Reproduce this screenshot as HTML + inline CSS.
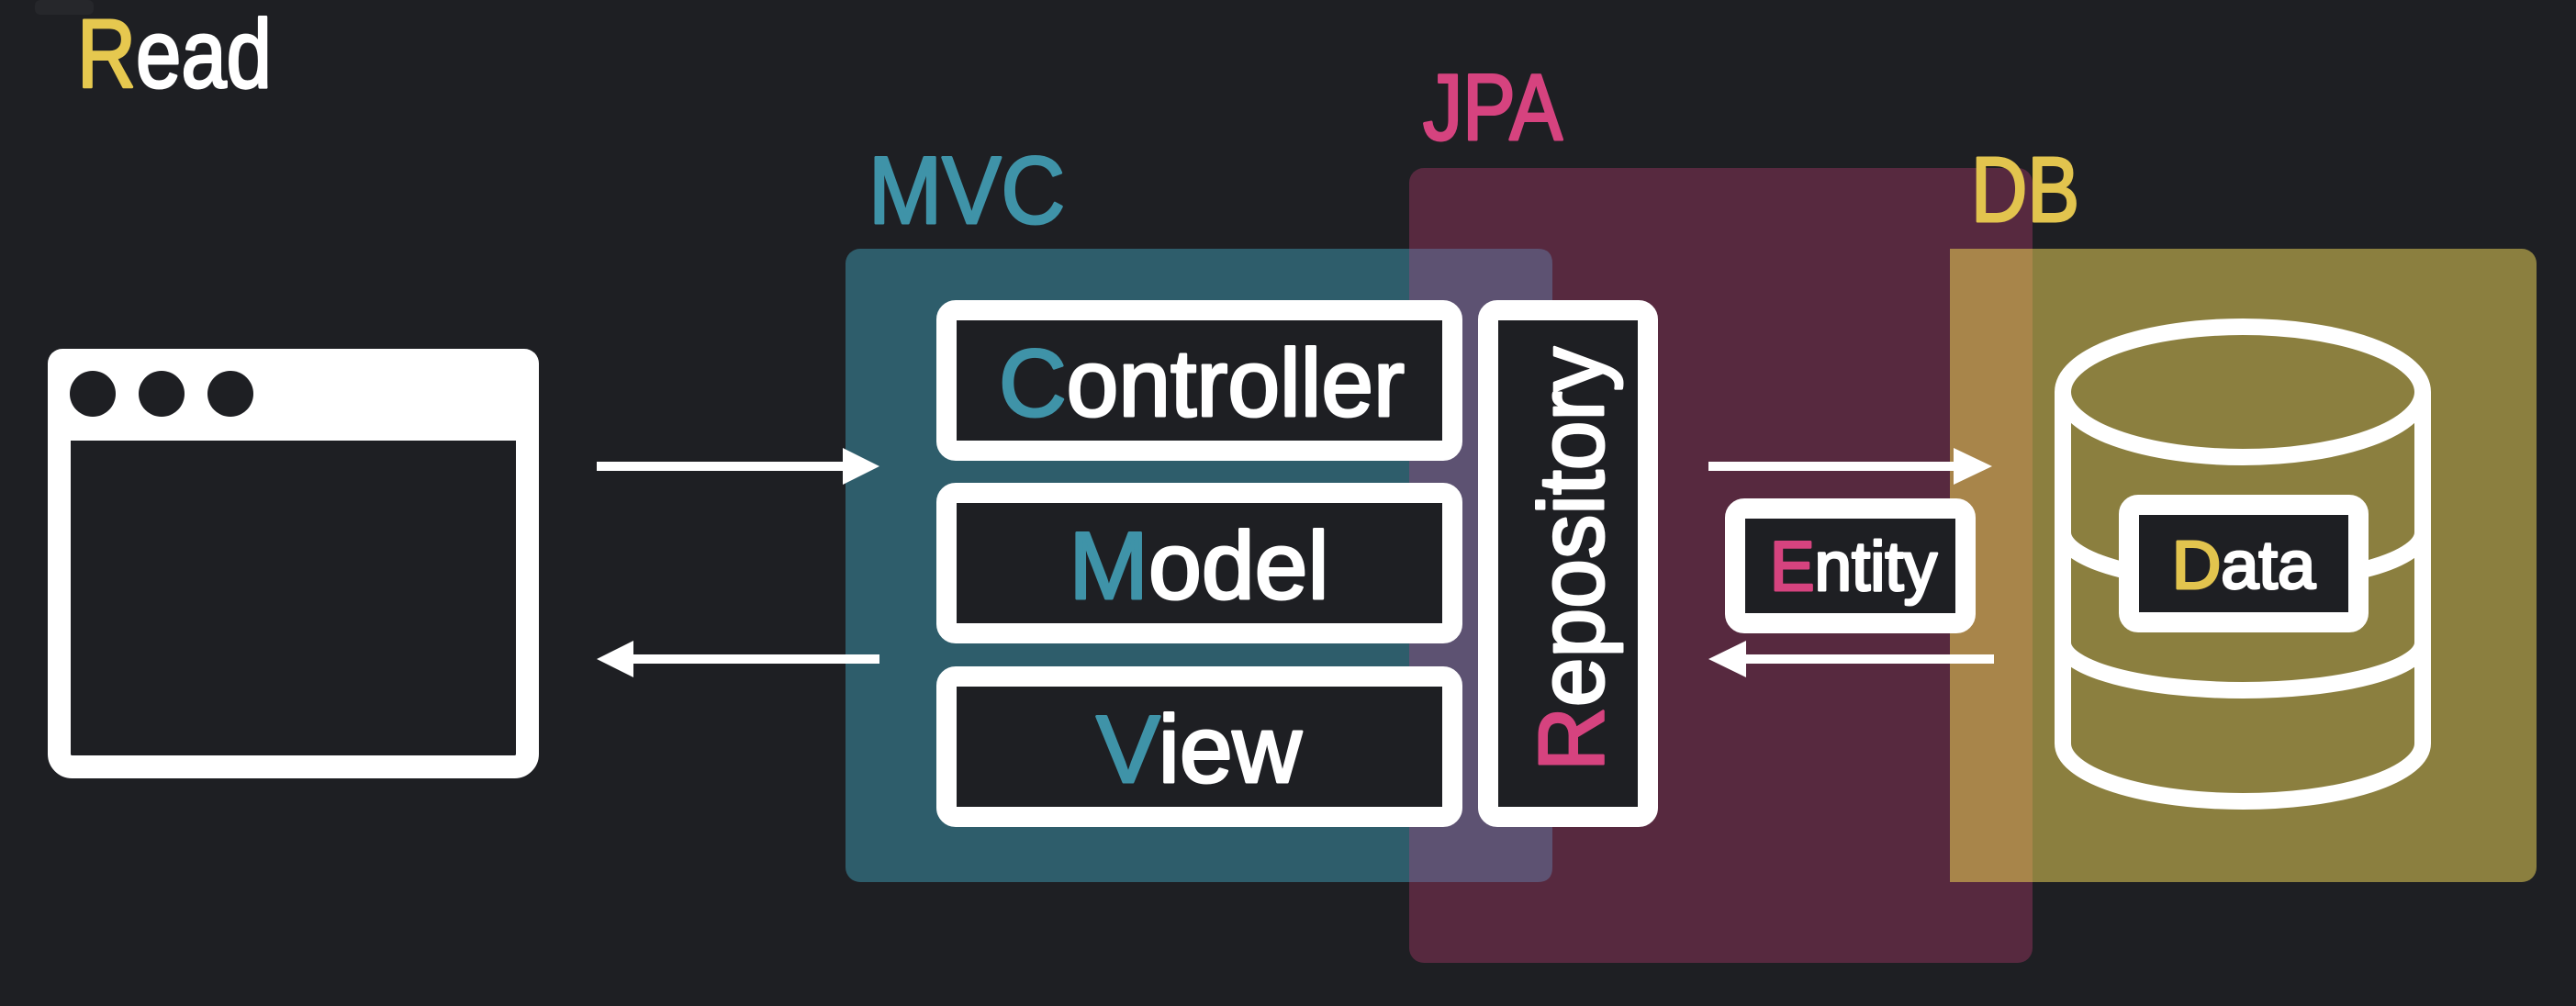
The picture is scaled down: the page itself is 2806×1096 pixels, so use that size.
<!DOCTYPE html>
<html><head><meta charset="utf-8"><style>
html,body{margin:0;padding:0;background:#1e1f23;}
svg{display:block;}
text{font-family:"Liberation Sans",sans-serif;stroke-width:3;stroke-linejoin:round;}
</style></head><body>
<svg width="2806" height="1096" viewBox="0 0 2806 1096" xmlns="http://www.w3.org/2000/svg">
<rect width="2806" height="1096" fill="#1e1f23"/>
<rect x="38" y="0" width="64" height="16" rx="6" fill="#26272b"/>
<!-- Read -->
<text x="84" y="95" font-size="106" fill="#fff" stroke="#fff" textLength="212" lengthAdjust="spacingAndGlyphs"><tspan fill="#e6c84f" stroke="#e6c84f">R</tspan>ead</text>

<!-- Boxes -->
<rect x="921" y="271" width="770" height="690" rx="16" fill="#2e5d6b"/>
<rect x="1535" y="183" width="679" height="866" rx="16" fill="#57293f"/>
<path d="M1535 271 H1675 Q1691 271 1691 287 V945 Q1691 961 1675 961 H1535 Z" fill="#5d5272"/>
<rect x="2124" y="271" width="639" height="690" rx="16" fill="#8b7f3f"/>
<rect x="2124" y="271" width="90" height="690" fill="#a8854a"/>

<!-- Labels -->
<text x="946" y="243" font-size="104" fill="#3f93a8" stroke="#3f93a8" textLength="214" lengthAdjust="spacingAndGlyphs">MVC</text>
<text x="1550" y="152" font-size="102" fill="#d6437f" stroke="#d6437f" textLength="152" lengthAdjust="spacingAndGlyphs">JPA</text>
<text x="2147" y="241" font-size="100" fill="#e2c44e" stroke="#e2c44e" textLength="118" lengthAdjust="spacingAndGlyphs">DB</text>

<!-- Browser -->
<rect x="64.5" y="392.5" width="510" height="443" rx="14" fill="none" stroke="#fff" stroke-width="25"/>
<rect x="52" y="380" width="535" height="100" rx="16" fill="#fff"/>
<circle cx="101" cy="429" r="25" fill="#1e1f23"/>
<circle cx="176" cy="429" r="25" fill="#1e1f23"/>
<circle cx="251" cy="429" r="25" fill="#1e1f23"/>

<!-- Arrows left -->
<rect x="650" y="503" width="270" height="10" fill="#fff"/>
<polygon points="918,488 958,508 918,528" fill="#fff"/>
<rect x="690" y="713" width="268" height="10" fill="#fff"/>
<polygon points="650,718 690,698 690,738" fill="#fff"/>

<!-- MVC inner boxes -->
<g fill="#1e1f23" stroke="#fff" stroke-width="22">
<rect x="1031" y="338" width="551" height="153" rx="10"/>
<rect x="1031" y="537" width="551" height="153" rx="10"/>
<rect x="1031" y="737" width="551" height="153" rx="10"/>
<rect x="1621" y="338" width="174" height="552" rx="10"/>
<rect x="1890" y="554" width="251" height="125" rx="10"/>
</g>
<text x="1088" y="453" font-size="104" fill="#fff" stroke="#fff" textLength="442" lengthAdjust="spacingAndGlyphs"><tspan fill="#3f93a8" stroke="#3f93a8">C</tspan>ontroller</text>
<text x="1306" y="652" font-size="104" fill="#fff" stroke="#fff" text-anchor="middle"><tspan fill="#3f93a8" stroke="#3f93a8">M</tspan>odel</text>
<text x="1306" y="852" font-size="104" fill="#fff" stroke="#fff" text-anchor="middle"><tspan fill="#3f93a8" stroke="#3f93a8">V</tspan>iew</text>
<text transform="translate(1746,840) rotate(-90)" font-size="100" fill="#fff" stroke="#fff" textLength="462" lengthAdjust="spacingAndGlyphs"><tspan fill="#d6437f" stroke="#d6437f">R</tspan>epository</text>

<!-- Arrows right -->
<rect x="1861" y="503" width="270" height="10" fill="#fff"/>
<polygon points="2128,488 2170,508 2128,528" fill="#fff"/>
<rect x="1900" y="713" width="272" height="10" fill="#fff"/>
<polygon points="1861,718 1902,698 1902,738" fill="#fff"/>
<text x="1928" y="643" font-size="76" fill="#fff" stroke="#fff" textLength="182" lengthAdjust="spacingAndGlyphs"><tspan fill="#d6437f" stroke="#d6437f">E</tspan>ntity</text>

<!-- Cylinder -->
<g fill="none" stroke="#fff" stroke-width="18">
<ellipse cx="2443" cy="427" rx="196" ry="71"/>
<path d="M2247 427 V810 A196 63 0 0 0 2639 810 V427"/>
<path d="M2247 580 A196 55 0 0 0 2639 580"/>
<path d="M2247 700 A196 52 0 0 0 2639 700"/>
</g>
<g fill="#1e1f23" stroke="#fff" stroke-width="22">
<rect x="2319" y="550" width="250" height="128" rx="10"/>
</g>
<text x="2444" y="641" font-size="74" fill="#fff" stroke="#fff" text-anchor="middle"><tspan fill="#e2c44e" stroke="#e2c44e">D</tspan>ata</text>
</svg>
</body></html>
